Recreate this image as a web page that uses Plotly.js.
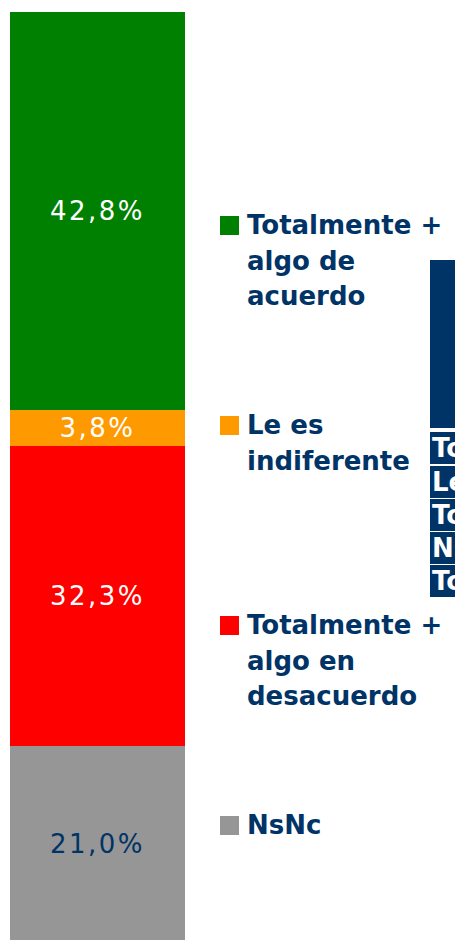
<!DOCTYPE html>
<html><head><meta charset="utf-8">
<script src="https://cdn.plot.ly/plotly-3.0.1.min.js"></script>
<style>
html,body{margin:0;padding:0;background:#fff;overflow:hidden;}
#chart{width:455px;height:940px;}
text.bartext{letter-spacing:2.5px;}
</style>
</head><body><div id="chart"></div>
<script>
// Data (stack order: bottom to top)
const categories = ['NsNc', 'Totalmente + algo en desacuerdo', 'Le es indiferente', 'Totalmente + algo de acuerdo'];
const values = [21.0, 32.3, 3.8, 42.8];
const legendLabels = ['NsNc', 'Totalmente +<br>algo en<br>desacuerdo', 'Le es<br>indiferente', 'Totalmente +<br>algo de<br>acuerdo'];
const tableRows = ['Totalmente + algo de acuerdo', 'Le es indiferente', 'Totalmente + algo en desacuerdo', 'NsNc', 'Total'];

// Styles
const colors = ['#969696', '#FF0000', '#FF9900', '#008000'];
const labelColors = ['#003366', '#FFFFFF', '#FFFFFF', '#FFFFFF'];
const NAVY = '#003366';
const FONT = 'DejaVu Sans, Verdana, sans-serif';
const W = 455, H = 940;
const px = x => x / W;
const py = y => 1 - y / H;

const traces = categories.map((c, i) => ({
  type: 'bar',
  name: c,
  x: [0],
  y: [values[i]],
  width: [1],
  marker: {color: colors[i], line: {width: 0}},
  texttemplate: '%{y:.1f}%',
  textposition: 'inside',
  insidetextanchor: 'middle',
  textangle: 0,
  constraintext: 'none',
  textfont: {family: FONT, size: 26, color: labelColors[i]},
  hoverinfo: 'skip'
}));

// Layout positions (pixels)
const legendTop = [816, 616, 416, 216];
const lineStep = 35.5;
const shapes = [];
const annotations = [];
categories.forEach((c, i) => {
  shapes.push({type: 'rect', xref: 'paper', yref: 'paper',
    x0: px(220), x1: px(239), y0: py(legendTop[i]), y1: py(legendTop[i] + 19),
    fillcolor: colors[i], line: {width: 0}});
  legendLabels[i].split('<br>').forEach((line, j) => {
    annotations.push({xref: 'paper', yref: 'paper', x: px(245), y: py(legendTop[i] - 8 + j * lineStep),
      xanchor: 'left', yanchor: 'top', align: 'left', showarrow: false,
      text: line,
      font: {family: FONT, size: 26, color: NAVY, weight: 'bold'}});
  });
});

// Cut-off table on the right
shapes.push({type: 'rect', xref: 'paper', yref: 'paper', x0: px(430), x1: px(470),
  y0: py(260), y1: py(428), fillcolor: NAVY, line: {width: 0}});
const rowTop = [432, 466, 499, 532, 565];
const rowH = 32;
tableRows.forEach((r, i) => {
  shapes.push({type: 'rect', xref: 'paper', yref: 'paper', x0: px(430), x1: px(470),
    y0: py(rowTop[i]), y1: py(rowTop[i] + rowH), fillcolor: NAVY, line: {width: 0}});
  annotations.push({xref: 'paper', yref: 'paper', x: px(430), y: py(rowTop[i] + rowH / 2),
    xanchor: 'left', yanchor: 'middle', align: 'left', showarrow: false,
    text: r, font: {family: FONT, size: 26, color: '#FFFFFF', weight: 'bold'}});
});

const scaleX = 175;      // px per unit
const scaleY = 9.31;     // px per percent
const x0 = -0.5 - 10 / scaleX;
const y0 = 2 / scaleY;   // zero line just below the bottom edge

const layout = {
  width: W, height: H,
  margin: {l: 0, r: 0, t: 0, b: 0, pad: 0},
  paper_bgcolor: '#FFFFFF', plot_bgcolor: '#FFFFFF',
  barmode: 'stack',
  bargap: 0,
  separators: ',.',
  showlegend: false,
  xaxis: {range: [x0, x0 + W / scaleX], visible: false, fixedrange: true},
  yaxis: {range: [y0, y0 + H / scaleY], visible: false, fixedrange: true},
  shapes: shapes,
  annotations: annotations
};

Plotly.newPlot('chart', traces, layout, {displayModeBar: false, staticPlot: true});
</script>
</body></html>
